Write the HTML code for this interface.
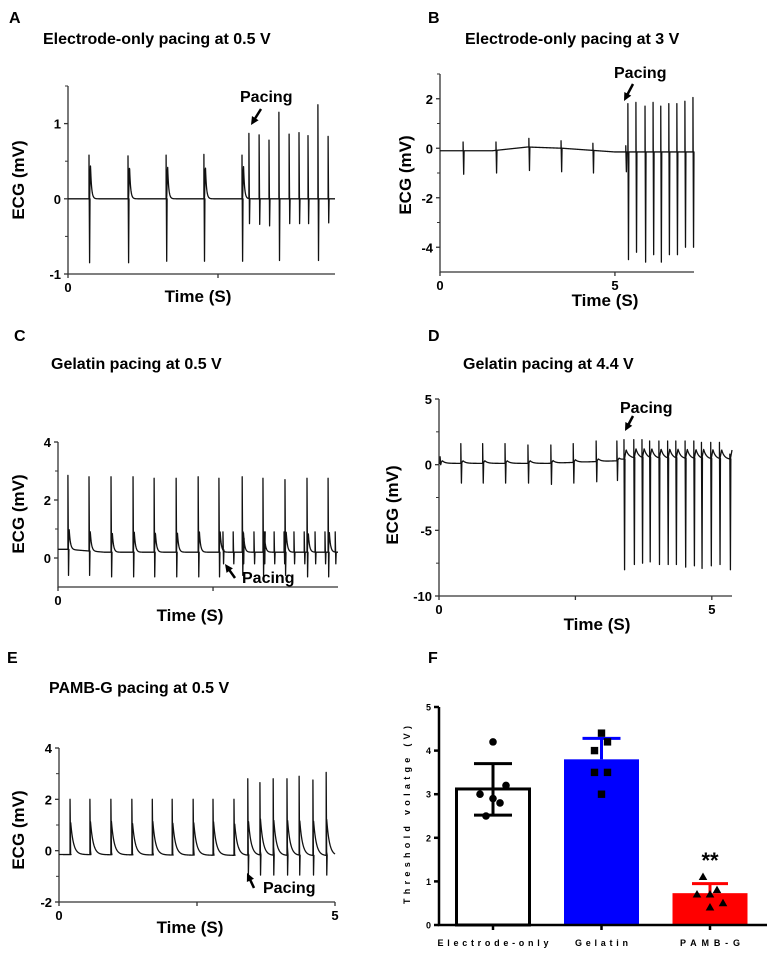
<!DOCTYPE html>
<html><head><meta charset="utf-8"><style>
html,body{margin:0;padding:0;background:#fff}
svg{display:block;font-family:"Liberation Sans",Arial,sans-serif}
.t{font-weight:bold;font-size:16px}
.lab{font-weight:bold;font-size:17px}
.tk{font-weight:bold;font-size:13px}
</style></head><body>
<svg id="fig" width="774" height="954" viewBox="0 0 774 954"></svg>
<script>
// ---------- Panel A data ----------
const aBeatT=[0.7,2.0,3.27,4.53,5.8];
const aBeatTop=[0.58,0.57,0.58,0.59,0.58];
const aBeatBot=[-0.85,-0.85,-0.83,-0.83,-0.83];
const aPaceT=[6.03,6.37,6.7,7.03,7.37,7.7,8.0,8.33,8.67];
const aPaceTop=[0.87,0.85,0.78,1.15,0.86,0.88,0.84,1.25,0.83];
const aPaceBot=[-0.33,-0.34,-0.36,-0.82,-0.33,-0.33,-0.33,-0.82,-0.32];
const aBaseT=[0,8.9];const aBaseV=[0,0];
// ---------- Panel B data ----------
const bBeatT=[0.66,1.6,2.54,3.46,4.37,5.31];
const bBeatTop=[0.25,0.25,0.4,0.3,0.2,0.1];
const bBeatBot=[-1.05,-1.0,-0.9,-0.95,-1.0,-0.95];
const bPaceT=[5.37,5.6,5.86,6.09,6.31,6.54,6.77,7.0,7.23];
const bPaceTop=[1.8,1.85,1.7,1.85,1.7,1.8,1.8,1.9,2.05];
const bPaceBot=[-4.5,-4.2,-4.6,-4.3,-4.6,-4.3,-4.3,-4.0,-4.0];
const bBaseT=[0,1.5,2.5,3.5,4.5,5.0,7.26];const bBaseV=[-0.1,-0.1,0.05,0,-0.1,-0.15,-0.15];
// ---------- Panel C data ----------
const cBeatT=[0.32,1.0,1.71,2.42,3.1,3.81,4.52,5.19,5.94,6.61,7.32,8.03,8.71];
const cBeatTop=[2.85,2.8,2.8,2.8,2.75,2.75,2.8,2.75,2.8,2.75,2.7,2.75,2.75];
const cBeatBot=[-0.6,-0.6,-0.65,-0.65,-0.65,-0.65,-0.65,-0.65,-0.6,-0.6,-0.6,-0.65,-0.65];
const cPaceT=[5.32,5.65,5.97,6.32,6.65,6.97,7.29,7.61,7.94,8.29,8.61,8.94];
const cPaceTop=[0.9,0.9,0.9,0.9,0.9,0.9,0.9,0.9,0.9,0.9,0.9,0.9];
const cPaceBot=[-0.2,-0.2,-0.2,-0.2,-0.2,-0.2,-0.2,-0.2,-0.2,-0.2,-0.2,-0.2];
const cBaseT=[0,0.3,1.5,9.03];const cBaseV=[0.3,0.3,0.2,0.2];
// ---------- Panel D data ----------
const dBeatT=[0.02,0.4,0.8,1.21,1.63,2.05,2.46,2.88,3.26];
const dBeatTop=[0.6,1.6,1.6,1.6,1.5,1.5,1.6,1.8,1.8];
const dBeatBot=[0,-1.4,-1.4,-1.4,-1.4,-1.5,-1.4,-1.3,-1.2];
const dPaceT=[3.39,3.57,3.72,3.86,4.03,4.19,4.34,4.51,4.67,4.81,4.98,5.14,5.33];
const dPaceTop=[1.9,1.9,1.9,1.8,1.8,1.8,1.8,1.8,1.8,1.7,1.7,1.7,0.8];
const dPaceBot=[-8.0,-7.6,-7.5,-7.4,-7.6,-7.6,-7.6,-7.8,-7.7,-7.9,-7.7,-7.6,-8.0];
const dBaseT=[0,2.0,3.3,3.5,5.37];const dBaseV=[0.1,0.1,0.3,0.5,0.4];
// ---------- Panel E data ----------
const eBeatT=[0.2,0.56,0.94,1.32,1.69,2.05,2.43,2.79,3.17];
const eBeatTop=[2.0,2.0,2.0,2.0,2.0,2.0,2.0,2.0,2.0];
const eBeatBot=[-0.15,-0.15,-0.15,-0.15,-0.15,-0.15,-0.15,-0.15,-0.15];
const ePaceT=[3.42,3.64,3.88,4.13,4.35,4.6,4.84];
const ePaceTop=[2.8,2.65,2.8,2.8,2.9,2.75,3.05];
const ePaceBot=[-0.95,-0.95,-0.95,-0.95,-0.95,-0.95,-0.95];
const eBaseT=[0,5];const eBaseV=[-0.15,-0.2];
// ---------- Panel F data ----------
const fCats=["Electrode-only","Gelatin","PAMB-G"];
const fMeans=[3.12,3.8,0.73];
const fErrHi=[3.7,4.28,0.95];
const fErrLo=[2.52,3.8,0.73];
const fPtsElectrode=[4.2,3.2,3.0,2.9,2.8,2.5];
const fPtsGelatin=[4.4,4.2,4.0,3.5,3.5,3.0];
const fPtsPamb=[1.1,0.8,0.7,0.7,0.5,0.4];
const fYTicks=[0,1,2,3,4,5];

const NS="http://www.w3.org/2000/svg";
const svg=document.getElementById('fig');
function mk(tag,attrs,parent){const e=document.createElementNS(NS,tag);for(const k in attrs)e.setAttribute(k,attrs[k]);(parent||svg).appendChild(e);return e;}
function txt(s,x,y,cls,extra,parent){const e=mk('text',Object.assign({x:x,y:y,'class':cls||''},extra||{}),parent);e.textContent=s;return e;}
function interp(T,V,t){if(t<=T[0])return V[0];for(let i=1;i<T.length;i++){if(t<=T[i]){const f=(t-T[i-1])/(T[i]-T[i-1]);return V[i-1]+f*(V[i]-V[i-1]);}}return V[V.length-1];}

function ecgPanel(c){
  const g=mk('g',{});
  
  
  const sx=t=>c.x0+(t/c.tmax)*(c.x1-c.x0);
  const sy=v=>c.yb-(v-c.vmin)/(c.vmax-c.vmin)*(c.yb-c.yt);
  const L=txt(c.letter,c.lx,c.ly,'t',{},g);
  
  
  const T=txt(c.title,c.tx,c.ty,'t',{},g);
  
  
  const ax=mk('path',{d:`M${c.x0},${c.yt}V${c.yb}H${c.x1}`,fill:'none',stroke:'#333','stroke-width':1.3},g);
  
  
  c.yTicks.forEach(v=>{
    mk('line',{x1:c.x0-4,x2:c.x0,y1:sy(v),y2:sy(v),stroke:'#333','stroke-width':1.3},g);
    const tl=txt(String(v),c.x0-7,sy(v)+5,'tk',{'text-anchor':'end'},g);
    
    
  });
  c.yMinor.forEach(v=>{mk('line',{x1:c.x0-3,x2:c.x0,y1:sy(v),y2:sy(v),stroke:'#333','stroke-width':1},g);});
  c.xTicks.forEach(t=>{mk('line',{x1:sx(t),x2:sx(t),y1:c.yb,y2:c.yb+4,stroke:'#333','stroke-width':1.3},g);});
  c.xLabels.forEach(t=>{
    const xl=txt(String(t),sx(t),c.yb+18,'tk',{'text-anchor':'middle'},g);
    
    
  });
  const yl=txt('ECG (mV)',0,0,'lab',{'text-anchor':'middle',transform:`translate(${c.ylx},${c.yly}) rotate(-90)`},g);
  
  
  const xl=txt('Time (S)',c.xlx,c.xly,'lab',{'text-anchor':'middle'},g);
  
  
  const ev=[];
  c.beatT.forEach((t,i)=>ev.push({t:t,top:c.beatTop[i],bot:c.beatBot[i],bump:c.beatBump}));
  c.paceT.forEach((t,i)=>ev.push({t:t,top:c.paceTop[i],bot:c.paceBot[i],bump:c.paceBump}));
  ev.sort((a,b)=>a.t-b.t);
  const sig=t=>{let v=interp(c.baseT,c.baseV,t);ev.forEach(e=>{const d=t-e.t-c.delay;if(d>0){v+=e.bump*(d<c.rise?d/c.rise:Math.exp(-(d-c.rise)/c.tau));}});return v;};
  let d='';const N=1200;let ei=0;
  for(let k=0;k<=N;k++){
    const t=k/N*c.tmax;
    while(ei<ev.length&&ev[ei].t<=t){const e=ev[ei];const b=sig(e.t);d+=`L${sx(e.t).toFixed(2)},${sy(b).toFixed(2)}L${sx(e.t).toFixed(2)},${sy(e.top).toFixed(2)}L${(sx(e.t)+0.6).toFixed(2)},${sy(e.bot).toFixed(2)}L${(sx(e.t)+1).toFixed(2)},${sy(b).toFixed(2)}`;ei++;}
    d+=(k===0?'M':'L')+sx(t).toFixed(2)+','+sy(sig(t)).toFixed(2);
  }
  const tr=mk('path',{d:d,fill:'none',stroke:'#111','stroke-width':1.3,'stroke-linejoin':'round'},g);
  
  
  const p=txt('Pacing',c.px,c.py,'t',{},g);
  
  
  const a=c.arrow;
  const ang=Math.atan2(a[3]-a[1],a[2]-a[0]);const hx=a[2],hy=a[3];
  const h1=[hx-9*Math.cos(ang-0.45),hy-9*Math.sin(ang-0.45)],h2=[hx-9*Math.cos(ang+0.45),hy-9*Math.sin(ang+0.45)];
  const ar=mk('g',{},g);
  
  
  mk('line',{x1:a[0],y1:a[1],x2:hx-3*Math.cos(ang),y2:hy-3*Math.sin(ang),stroke:'#000','stroke-width':2.5},ar);
  mk('polygon',{points:`${hx},${hy} ${h1[0]},${h1[1]} ${h2[0]},${h2[1]}`,fill:'#000'},ar);
}

ecgPanel({name:'panel-a',letter:'A',lx:9,ly:23,title:'Electrode-only pacing at 0.5 V',tx:43,ty:44,
 x0:68,x1:335,tmax:8.9,yb:274,yt:86,vmin:-1,vmax:1.5,yTicks:[-1,0,1],yMinor:[-0.5,0.5,1.5],xTicks:[0,5],xLabels:[0],
 ylx:24,yly:180,xlx:198,xly:302,beatT:aBeatT,beatTop:aBeatTop,beatBot:aBeatBot,beatBump:0.45,paceT:aPaceT,paceTop:aPaceTop,paceBot:aPaceBot,paceBump:0,
 baseT:aBaseT,baseV:aBaseV,delay:0.02,rise:0.03,tau:0.035,px:240,py:102,arrow:[261,109,251,125]});
ecgPanel({name:'panel-b',letter:'B',lx:428,ly:23,title:'Electrode-only pacing at 3 V',tx:465,ty:44,
 x0:440,x1:694,tmax:7.26,yb:272,yt:74,vmin:-5,vmax:3,yTicks:[-4,-2,0,2],yMinor:[-3,-1,1,3],xTicks:[0,5],xLabels:[0,5],
 ylx:24+387,yly:175,xlx:605,xly:306,beatT:bBeatT,beatTop:bBeatTop,beatBot:bBeatBot,beatBump:0,paceT:bPaceT,paceTop:bPaceTop,paceBot:bPaceBot,paceBump:0,
 baseT:bBaseT,baseV:bBaseV,delay:0.02,rise:0.04,tau:0.07,px:614,py:78,arrow:[633,84,624,101]});
ecgPanel({name:'panel-c',letter:'C',lx:14,ly:341,title:'Gelatin pacing at 0.5 V',tx:51,ty:369,
 x0:58,x1:338,tmax:9.03,yb:587,yt:442,vmin:-1,vmax:4,yTicks:[0,2,4],yMinor:[1,3],xTicks:[0,5],xLabels:[0],
 ylx:24,yly:514,xlx:190,xly:621,beatT:cBeatT,beatTop:cBeatTop,beatBot:cBeatBot,beatBump:0.7,paceT:cPaceT,paceTop:cPaceTop,paceBot:cPaceBot,paceBump:0,
 baseT:cBaseT,baseV:cBaseV,delay:0.01,rise:0.03,tau:0.04,px:242,py:583,arrow:[235,578,225,564]});
ecgPanel({name:'panel-d',letter:'D',lx:428,ly:341,title:'Gelatin pacing at 4.4 V',tx:463,ty:369,
 x0:439,x1:732,tmax:5.37,yb:596,yt:399,vmin:-10,vmax:5,yTicks:[-10,-5,0,5],yMinor:[-7.5,-2.5,2.5],xTicks:[0,2.5,5],xLabels:[0,5],
 ylx:398,yly:505,xlx:597,xly:630,beatT:dBeatT,beatTop:dBeatTop,beatBot:dBeatBot,beatBump:0.2,paceT:dPaceT,paceTop:dPaceTop,paceBot:dPaceBot,paceBump:0.7,
 baseT:dBaseT,baseV:dBaseV,delay:0.01,rise:0.03,tau:0.05,px:620,py:413,arrow:[633,416,625,431]});
ecgPanel({name:'panel-e',letter:'E',lx:7,ly:663,title:'PAMB-G pacing at 0.5 V',tx:49,ty:693,
 x0:59,x1:335,tmax:5,yb:902,yt:748,vmin:-2,vmax:4,yTicks:[-2,0,2,4],yMinor:[-1,1,3],xTicks:[0,2.5,5],xLabels:[0,5],
 ylx:24,yly:830,xlx:190,xly:933,beatT:eBeatT,beatTop:eBeatTop,beatBot:eBeatBot,beatBump:1.3,paceT:ePaceT,paceTop:ePaceTop,paceBot:ePaceBot,paceBump:1.4,
 baseT:eBaseT,baseV:eBaseV,delay:0.0,rise:0.01,tau:0.05,px:263,py:893,arrow:[254,888,247,873]});

// ---------- Panel F ----------
(function(){
  const g=mk('g',{});
  
  
  const X0=439,X1=767,Y0=925,Y5=707;
  const sy=v=>Y0-(v/5)*(Y0-Y5);
  const cx=i=>493+i*108.5;
  const L=txt('F',428,663,'t',{},g);
  
  
  const colors=['#fff','#0000ff','#ff0000'];
  const errColors=['#000','#0000ff','#ff0000'];
  const lens=[111,53,60];
  fCats.forEach((c,i)=>{
    const bw=75;
    const bar=mk('rect',{x:cx(i)-bw/2+(i===0?1:0),y:sy(fMeans[i]),width:bw-(i===0?2:0),height:Y0-sy(fMeans[i]),fill:colors[i],stroke:i===0?'#000':'none','stroke-width':3},g);
    
    
    const eb=mk('g',{},g);
    
    
    const cw=i===2?36:38;
    mk('line',{x1:cx(i),x2:cx(i),y1:sy(fErrLo[i]),y2:sy(fErrHi[i]),stroke:errColors[i],'stroke-width':3},eb);
    mk('line',{x1:cx(i)-cw/2,x2:cx(i)+cw/2,y1:sy(fErrHi[i]),y2:sy(fErrHi[i]),stroke:errColors[i],'stroke-width':3},eb);
    if(fErrLo[i]<fMeans[i])mk('line',{x1:cx(i)-cw/2,x2:cx(i)+cw/2,y1:sy(fErrLo[i]),y2:sy(fErrLo[i]),stroke:errColors[i],'stroke-width':3},eb);
    const cl=txt(c,cx(i),946,'',{'text-anchor':'middle','font-size':'9','font-weight':'bold',textLength:lens[i],lengthAdjust:'spacing'},g);
    
    
    mk('line',{x1:cx(i),x2:cx(i),y1:Y0,y2:Y0+5,stroke:'#000','stroke-width':2.5},g);
  });
  const offE=[0,13,-13,0,7,-7],offG=[0,6,-7,-7,6,0],offP=[-7,7,-13,0,13,0];
  fPtsElectrode.forEach((v,j)=>{const p=mk('circle',{cx:cx(0)+offE[j],cy:sy(v),r:3.8,fill:'#000'},g);
    
    });
  fPtsGelatin.forEach((v,j)=>{const p=mk('rect',{x:cx(1)+offG[j]-3.7,y:sy(v)-3.7,width:7.4,height:7.4,fill:'#000'},g);
    
    });
  fPtsPamb.forEach((v,j)=>{const x=cx(2)+offP[j],y=sy(v);const p=mk('polygon',{points:`${x},${y-4.5} ${x-4.3},${y+3} ${x+4.3},${y+3}`,fill:'#000'},g);
    
    });
  const st=txt('**',cx(2),868,'',{'text-anchor':'middle','font-size':'22','font-weight':'bold'},g);
  
  
  const ax=mk('path',{d:`M${X0},${Y5}V${Y0}H${X1}`,fill:'none',stroke:'#000','stroke-width':2.5},g);
  
  
  fYTicks.forEach(v=>{
    mk('line',{x1:X0-5,x2:X0,y1:sy(v),y2:sy(v),stroke:'#000','stroke-width':2.5},g);
    const tl=txt(String(v),X0-8,sy(v)+3.5,'',{'text-anchor':'end','font-size':'9','font-weight':'bold'},g);
    
    
  });
  const yl=txt('Threshold volatge (V)',0,0,'',{'text-anchor':'middle','font-size':'9','font-weight':'bold',textLength:178,lengthAdjust:'spacing',transform:'translate(410,815) rotate(-90)'},g);
  
  
})();
</script>
</body></html>
